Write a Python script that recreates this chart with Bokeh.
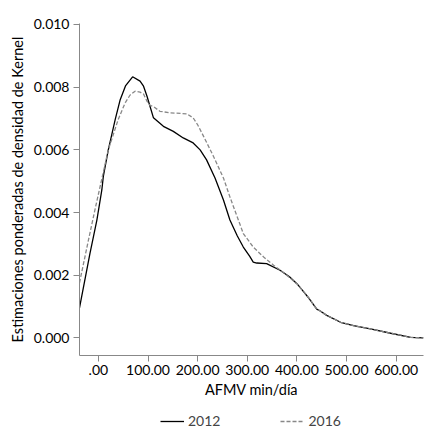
from bokeh.plotting import figure
from bokeh.models import Range1d, FixedTicker, Legend, LegendItem
from bokeh.layouts import column
from bokeh.embed import file_html
from bokeh.resources import INLINE

# 2012 series (AFMV min/día, density)
x2012 = [-38, -17, -3, 7, 10, 20, 34, 44, 55, 69, 84, 91, 98, 104, 111, 131, 151, 171, 191,
         205, 218, 235, 252, 265, 280, 292, 305, 312, 319, 339, 366, 385, 400, 410, 425, 440,
         447, 460, 488, 514, 548, 589, 629, 655]
y2012 = [0.00096, 0.00269, 0.00376, 0.00472, 0.00515, 0.0060, 0.00697, 0.0076, 0.00805, 0.00833,
         0.00819, 0.00803, 0.00771, 0.00739, 0.00702, 0.00675, 0.00659, 0.00638, 0.00622,
         0.0060, 0.00568, 0.0051, 0.0044, 0.00376, 0.00325, 0.0029, 0.0026, 0.00242, 0.00239,
         0.00237, 0.00216, 0.00195, 0.00173, 0.00154, 0.00125, 0.00092,
         0.00086, 0.00072, 0.0005, 0.00039, 0.00029, 0.00015, 0.00002, 0.0]

# 2016 series
x2016 = [-38, -20, -7, 2, 20, 40, 54, 64, 74, 84, 91, 98, 104, 111, 124, 145, 178, 191, 200,
         212, 232, 252, 265, 280, 292, 312, 333, 353, 370, 400, 410, 425, 440,
         447, 460, 488, 514, 548, 589, 629, 655]
y2016 = [0.00176, 0.00312, 0.00408, 0.00472, 0.0060, 0.00697, 0.0075, 0.00775, 0.00787, 0.00784,
         0.00778, 0.00755, 0.00742, 0.00738, 0.00723, 0.00718, 0.00715, 0.00702, 0.0068,
         0.00643, 0.00579, 0.0051, 0.0045, 0.00385, 0.00333, 0.0029, 0.00258, 0.00232, 0.00212,
         0.00173, 0.00154, 0.00125, 0.00092,
         0.00086, 0.00072, 0.0005, 0.00039, 0.00029, 0.00015, 0.00002, 0.0]

series_labels = ["2012", "2016"]

x_ticks = [0, 100, 200, 300, 400, 500, 600]
x_tick_labels = [".00", "100.00", "200.00", "300.00", "400.00", "500.00", "600.00"]
y_ticks = [0.0, 0.002, 0.004, 0.006, 0.008, 0.010]
y_tick_labels = ["0.000", "0.002", "0.004", "0.006", "0.008", "0.010"]

FONT = "Lato"
SOLID = dict(line_color="black", line_width=1.3)
DASHED = dict(line_color="#888888", line_width=1.3, line_dash="4 2")

p = figure(width=440, height=405, output_backend="svg", toolbar_location=None,
           x_range=Range1d(-38, 655), y_range=Range1d(-0.00056, 0.01003),
           min_border_left=79, min_border_right=17, min_border_top=23, min_border_bottom=50)
p.outline_line_color = None
p.grid.visible = False
p.background_fill_color = "white"

for ax in (p.xaxis[0], p.yaxis[0]):
    ax.axis_line_color = "#888888"
    ax.major_tick_line_color = "#888888"
    ax.minor_tick_line_color = None
    ax.major_tick_in = 0
    ax.major_tick_out = 6
    ax.major_label_text_font = FONT
    ax.major_label_text_font_size = "14px"
    ax.major_label_text_color = "black"
    ax.axis_label_text_font = FONT
    ax.axis_label_text_font_size = "14.5px"
    ax.axis_label_text_font_style = "normal"
    ax.axis_label_text_color = "black"

p.xaxis.ticker = FixedTicker(ticks=x_ticks)
p.xaxis.major_label_overrides = {t: l for t, l in zip(x_ticks, x_tick_labels)}
p.yaxis.ticker = FixedTicker(ticks=y_ticks)
p.yaxis.major_label_overrides = {t: l for t, l in zip(y_ticks, y_tick_labels)}
p.xaxis.axis_label = "AFMV min/día"
p.yaxis.axis_label = "Estimaciones ponderadas de densidad de Kernel"
p.xaxis.major_label_standoff = 3
p.xaxis.axis_label_standoff = 3
p.yaxis.major_label_standoff = 4
p.yaxis.axis_label_standoff = 5

p.line(x2012, y2012, **SOLID)
p.line(x2016, y2016, **DASHED)

# Legend strip under the chart (sample renderers lie outside the visible range)
lf = figure(width=440, height=32, output_backend="svg", toolbar_location=None,
            x_range=Range1d(0, 1), y_range=Range1d(0, 1),
            x_axis_type=None, y_axis_type=None,
            min_border_left=0, min_border_right=0, min_border_top=0, min_border_bottom=0)
lf.outline_line_color = None
lf.grid.visible = False
g1 = lf.line([5, 6], [5, 6], **SOLID)
g2 = lf.line([5, 6], [5, 6], **DASHED)
legend = Legend(items=[LegendItem(label=series_labels[0], renderers=[g1]),
                       LegendItem(label=series_labels[1], renderers=[g2])],
                location=(81, 8), orientation="horizontal",
                glyph_width=24, glyph_height=16, label_standoff=4, spacing=60,
                padding=0, margin=0,
                border_line_color=None, background_fill_alpha=0,
                label_text_font=FONT, label_text_font_size="14px")
lf.add_layout(legend, "center")

layout = column(p, lf, spacing=0)
open("out.html", "w").write(file_html(layout, INLINE))
